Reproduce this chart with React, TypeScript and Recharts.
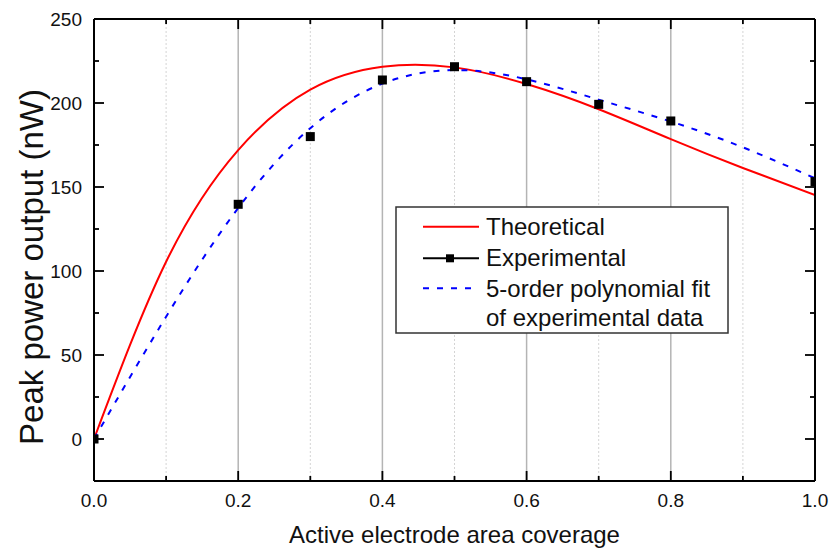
import React from 'react';
import { ComposedChart, Line, Scatter, XAxis, YAxis, ReferenceLine, Legend } from 'recharts';

// Theoretical curve (red)
const theoX = [0, 0.1, 0.2, 0.3, 0.4, 0.5, 0.6, 0.7, 0.8, 0.9, 1.0];
const theoY = [0, 105.5, 172, 208, 221.6, 221.2, 211.3, 196.3, 178.5, 161.3, 145.2];

// Experimental points (black squares)
const expX = [0, 0.2, 0.3, 0.4, 0.5, 0.6, 0.7, 0.8, 1.0];
const expY = [0, 139.7, 180, 213.7, 221.6, 212.7, 199.2, 189.3, 153.2];

// 5-order polynomial fit (blue dashed)
const fitX = [0, 0.1, 0.2, 0.3, 0.4, 0.5, 0.6, 0.7, 0.8, 0.9, 1.0];
const fitY = [0, 72.8, 137.5, 185, 211.5, 219.6, 214.1, 202, 189, 173.6, 155.2];

// Axis ticks
const xTicks = [0, 0.1, 0.2, 0.3, 0.4, 0.5, 0.6, 0.7, 0.8, 0.9, 1.0];
const xLabeled = [0, 0.2, 0.4, 0.6, 0.8, 1.0];
const yTicks = [-25, 0, 25, 50, 75, 100, 125, 150, 175, 200, 225, 250];
const yLabeled = [0, 50, 100, 150, 200, 250];
const majorGridX = [0.2, 0.4, 0.6, 0.8];
const minorGridX = [0.1, 0.3, 0.5, 0.7, 0.9];

const seriesNames = ['Theoretical', 'Experimental', '5-order polynomial fit', 'of experimental data'];
const xTitle = 'Active electrode area coverage';
const yTitle = 'Peak power output (nW)';

const theoData = theoX.map((x, i) => ({ x, y: theoY[i] }));
const expData = expX.map((x, i) => ({ x, y: expY[i] }));
const fitData = fitX.map((x, i) => ({ x, y: fitY[i] }));

const FONT = '"Liberation Sans", Arial, sans-serif';
const isIn = (arr: number[], v: number) => arr.some((a) => Math.abs(a - v) < 1e-6);
const TICK_COLOR = '#000';
const MAJ = 10;
const MIN = 5;

const BottomTick = (props: any) => {
  const x = Number(props.x);
  const y = Number(props.y);
  const { payload } = props;
  const major = isIn(xLabeled, payload.value);
  const len = major ? MAJ : MIN;
  return (
    <g>
      <rect x={x - 0.9} y={y - len} width={1.8} height={len} fill={TICK_COLOR} />
      {major && (
        <text x={x} y={y + 25.7} textAnchor="middle" fontSize={19} fontFamily={FONT} fill="#111">
          {payload.value.toFixed(1)}
        </text>
      )}
    </g>
  );
};

const TopTick = (props: any) => {
  const x = Number(props.x);
  const y = Number(props.y);
  const major = isIn(xLabeled, props.payload.value);
  return <rect x={x - 0.9} y={y} width={1.8} height={major ? MAJ : MIN} fill={TICK_COLOR} />;
};

const LeftTick = (props: any) => {
  const x = Number(props.x);
  const y = Number(props.y);
  const { payload } = props;
  const major = isIn(yLabeled, payload.value);
  return (
    <g>
      <rect x={x} y={y - 0.9} width={major ? MAJ : MIN} height={1.8} fill={TICK_COLOR} />
      {major && (
        <text x={x - 12} y={y} dy="0.36em" textAnchor="end" fontSize={19} fontFamily={FONT} fill="#111">
          {payload.value}
        </text>
      )}
    </g>
  );
};

const RightTick = (props: any) => {
  const x = Number(props.x);
  const y = Number(props.y);
  const major = isIn(yLabeled, props.payload.value);
  const len = major ? MAJ : MIN;
  return <rect x={x - len} y={y - 0.9} width={len} height={1.8} fill={TICK_COLOR} />;
};

const XTitle = (props: any) => {
  const vb = props.viewBox || { x: 94, y: 481, width: 721 };
  return (
    <text x={vb.x + vb.width / 2} y={vb.y + 62.3} textAnchor="middle" fontSize={24} fontFamily={FONT} fill="#111">
      {xTitle}
    </text>
  );
};

const YTitle = (props: any) => {
  const vb = props.viewBox || { x: 0, y: 19, width: 94, height: 462 };
  const cy = vb.y + vb.height / 2 + 17;
  return (
    <text transform={`translate(${vb.x + 43}, ${cy}) rotate(-90)`} textAnchor="middle" fontSize={33} fontFamily={FONT} fill="#111">
      {yTitle}
    </text>
  );
};

const LegendBox = () => (
  <svg width={334} height={128} style={{ display: 'block', overflow: 'visible' }}>
    <rect x={1} y={1} width={332} height={126} fill="#fff" stroke="#333" strokeWidth={1.5} />
    <line x1={28} x2={84} y1={20.7} y2={20.7} stroke="#ff0000" strokeWidth={2} />
    <line x1={28} x2={84} y1={52.3} y2={52.3} stroke="#000" strokeWidth={2} />
    <rect x={51} y={48.3} width={8} height={8} fill="#000" />
    <line x1={28} x2={84} y1={82.3} y2={82.3} stroke="#0000ff" strokeWidth={2} strokeDasharray="6 8" />
    {seriesNames.map((n, i) => (
      <text key={n} x={91} y={[29, 60, 90.7, 120][i]} fontSize={24} fontFamily={FONT} fill="#111">
        {n}
      </text>
    ))}
  </svg>
);

const Square = (props: any) => {
  const { cx, cy } = props;
  if (cx == null || cy == null) return null;
  return <rect x={cx - 4.5} y={cy - 4.5} width={9} height={9} fill="#000" />;
};

export default function App() {
  return (
    <div style={{ position: 'absolute', left: 0, top: 0, width: 830, height: 552, background: '#fff' }}>
      <ComposedChart width={830} height={552} margin={{ top: 18, right: 14, bottom: 0, left: 0 }}>
        <XAxis
          xAxisId="b"
          type="number"
          dataKey="x"
          domain={[0, 1]}
          allowDataOverflow
          ticks={xTicks}
          interval={0}
          tickSize={0}
          tickMargin={0}
          tickLine={false}
          tick={<BottomTick />}
          axisLine={{ stroke: '#000', strokeWidth: 2 }}
          height={71}
          label={<XTitle />}
        />
        <XAxis
          xAxisId="t"
          orientation="top"
          type="number"
          dataKey="x"
          domain={[0, 1]}
          allowDataOverflow
          ticks={xTicks}
          interval={0}
          tickSize={0}
          tickMargin={0}
          tickLine={false}
          tick={<TopTick />}
          axisLine={{ stroke: '#000', strokeWidth: 2 }}
          height={1}
        />
        <YAxis
          yAxisId="l"
          type="number"
          dataKey="y"
          domain={[-25, 250]}
          allowDataOverflow
          ticks={yTicks}
          interval={0}
          tickSize={0}
          tickMargin={0}
          tickLine={false}
          tick={<LeftTick />}
          axisLine={{ stroke: '#000', strokeWidth: 2 }}
          width={94}
          label={<YTitle />}
        />
        <YAxis
          yAxisId="r"
          orientation="right"
          type="number"
          dataKey="y"
          domain={[-25, 250]}
          allowDataOverflow
          ticks={yTicks}
          interval={0}
          tickSize={0}
          tickMargin={0}
          tickLine={false}
          tick={<RightTick />}
          axisLine={{ stroke: '#000', strokeWidth: 2 }}
          width={1}
        />
        {minorGridX.map((v) => (
          <ReferenceLine key={'m' + v} xAxisId="b" yAxisId="l" x={v} stroke="#d4d4d4" strokeWidth={1} strokeDasharray="2 2" />
        ))}
        {majorGridX.map((v) => (
          <ReferenceLine key={'M' + v} xAxisId="b" yAxisId="l" x={v} stroke="#b4b4b4" strokeWidth={1.5} />
        ))}
        <Line
          xAxisId="b"
          yAxisId="l"
          data={theoData}
          dataKey="y"
          name={seriesNames[0]}
          type="natural"
          stroke="#ff0000"
          strokeWidth={2}
          dot={false}
          activeDot={false}
          isAnimationActive={false}
        />
        <Line
          xAxisId="b"
          yAxisId="l"
          data={fitData}
          dataKey="y"
          name={seriesNames[2]}
          type="natural"
          stroke="#0000ff"
          strokeWidth={2}
          strokeDasharray="6 8"
          dot={false}
          activeDot={false}
          isAnimationActive={false}
        />
        <Scatter
          xAxisId="b"
          yAxisId="l"
          data={expData}
          dataKey="y"
          name={seriesNames[1]}
          fill="#000"
          shape={<Square />}
          isAnimationActive={false}
        />
        <Legend
          layout="horizontal"
          verticalAlign="middle"
          align="center"
          wrapperStyle={{ left: 395, top: 206, width: 334, height: 128 }}
          content={() => <LegendBox />}
        />
      </ComposedChart>
    </div>
  );
}
